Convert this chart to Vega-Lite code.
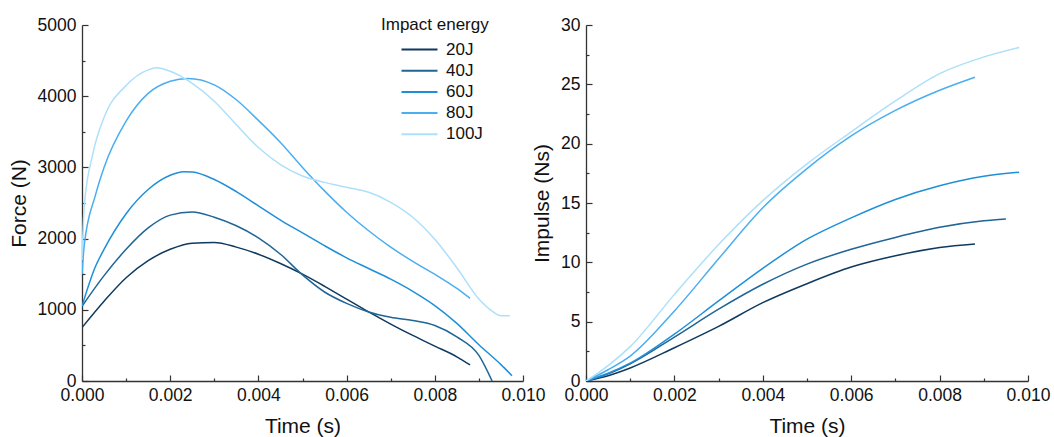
{
  "$schema": "https://vega.github.io/schema/vega-lite/v6.json",
  "padding": {"left": 8, "top": 16, "right": 5, "bottom": 5},
  "background": "white",
  "bounds": "flush",
  "spacing": 63,
  "config": {
    "view": {"stroke": null},
    "font": "Liberation Sans",
    "axis": {
      "labelFont": "Liberation Sans",
      "titleFont": "Liberation Sans",
      "labelFontSize": 17.5,
      "titleFontSize": 21,
      "titleFontWeight": "normal",
      "labelColor": "#111",
      "titleColor": "#111",
      "domainColor": "#333",
      "domainWidth": 1.3,
      "tickColor": "#333",
      "tickWidth": 1.2,
      "tickSize": 1,
      "ticks": true,
      "grid": false
    },
    "legend": {
      "labelFont": "Liberation Sans",
      "titleFont": "Liberation Sans"
    }
  },
  "datasets": {
    "force": [
      {"t": 0, "v": 750, "energy": "20J"},
      {"t": 0.0005, "v": 1120, "energy": "20J"},
      {"t": 0.001, "v": 1450, "energy": "20J"},
      {"t": 0.0015, "v": 1690, "energy": "20J"},
      {"t": 0.002, "v": 1850, "energy": "20J"},
      {"t": 0.0025, "v": 1935, "energy": "20J"},
      {"t": 0.003, "v": 1945, "energy": "20J"},
      {"t": 0.0035, "v": 1880, "energy": "20J"},
      {"t": 0.004, "v": 1780, "energy": "20J"},
      {"t": 0.0045, "v": 1650, "energy": "20J"},
      {"t": 0.005, "v": 1500, "energy": "20J"},
      {"t": 0.0055, "v": 1330, "energy": "20J"},
      {"t": 0.006, "v": 1150, "energy": "20J"},
      {"t": 0.0065, "v": 970, "energy": "20J"},
      {"t": 0.007, "v": 800, "energy": "20J"},
      {"t": 0.0075, "v": 640, "energy": "20J"},
      {"t": 0.008, "v": 490, "energy": "20J"},
      {"t": 0.0085, "v": 340, "energy": "20J"},
      {"t": 0.0088, "v": 225, "energy": "20J"},

      {"t": 0, "v": 1050, "energy": "40J"},
      {"t": 0.0005, "v": 1480, "energy": "40J"},
      {"t": 0.001, "v": 1850, "energy": "40J"},
      {"t": 0.0015, "v": 2150, "energy": "40J"},
      {"t": 0.002, "v": 2330, "energy": "40J"},
      {"t": 0.0025, "v": 2375, "energy": "40J"},
      {"t": 0.003, "v": 2300, "energy": "40J"},
      {"t": 0.0035, "v": 2180, "energy": "40J"},
      {"t": 0.004, "v": 2010, "energy": "40J"},
      {"t": 0.0045, "v": 1780, "energy": "40J"},
      {"t": 0.005, "v": 1490, "energy": "40J"},
      {"t": 0.0055, "v": 1250, "energy": "40J"},
      {"t": 0.006, "v": 1090, "energy": "40J"},
      {"t": 0.0065, "v": 970, "energy": "40J"},
      {"t": 0.007, "v": 895, "energy": "40J"},
      {"t": 0.0075, "v": 850, "energy": "40J"},
      {"t": 0.008, "v": 780, "energy": "40J"},
      {"t": 0.0085, "v": 620, "energy": "40J"},
      {"t": 0.009, "v": 360, "energy": "40J"},
      {"t": 0.0093, "v": 0, "energy": "40J"},

      {"t": 0, "v": 1050, "energy": "60J"},
      {"t": 0.0003, "v": 1600, "energy": "60J"},
      {"t": 0.0005, "v": 1850, "energy": "60J"},
      {"t": 0.001, "v": 2350, "energy": "60J"},
      {"t": 0.0015, "v": 2690, "energy": "60J"},
      {"t": 0.002, "v": 2890, "energy": "60J"},
      {"t": 0.0023, "v": 2940, "energy": "60J"},
      {"t": 0.0025, "v": 2935, "energy": "60J"},
      {"t": 0.003, "v": 2830, "energy": "60J"},
      {"t": 0.0035, "v": 2660, "energy": "60J"},
      {"t": 0.004, "v": 2460, "energy": "60J"},
      {"t": 0.0045, "v": 2260, "energy": "60J"},
      {"t": 0.005, "v": 2080, "energy": "60J"},
      {"t": 0.0055, "v": 1900, "energy": "60J"},
      {"t": 0.006, "v": 1730, "energy": "60J"},
      {"t": 0.0065, "v": 1580, "energy": "60J"},
      {"t": 0.007, "v": 1430, "energy": "60J"},
      {"t": 0.0075, "v": 1260, "energy": "60J"},
      {"t": 0.008, "v": 1060, "energy": "60J"},
      {"t": 0.0085, "v": 810, "energy": "60J"},
      {"t": 0.009, "v": 510, "energy": "60J"},
      {"t": 0.0095, "v": 230, "energy": "60J"},
      {"t": 0.00975, "v": 75, "energy": "60J"},

      {"t": 0, "v": 1500, "energy": "80J"},
      {"t": 0.00005, "v": 1900, "energy": "80J"},
      {"t": 0.0003, "v": 2600, "energy": "80J"},
      {"t": 0.0005, "v": 3000, "energy": "80J"},
      {"t": 0.001, "v": 3650, "energy": "80J"},
      {"t": 0.0015, "v": 4040, "energy": "80J"},
      {"t": 0.002, "v": 4210, "energy": "80J"},
      {"t": 0.0024, "v": 4250, "energy": "80J"},
      {"t": 0.003, "v": 4160, "energy": "80J"},
      {"t": 0.0035, "v": 3950, "energy": "80J"},
      {"t": 0.004, "v": 3660, "energy": "80J"},
      {"t": 0.0045, "v": 3350, "energy": "80J"},
      {"t": 0.005, "v": 3000, "energy": "80J"},
      {"t": 0.0055, "v": 2670, "energy": "80J"},
      {"t": 0.006, "v": 2370, "energy": "80J"},
      {"t": 0.0065, "v": 2110, "energy": "80J"},
      {"t": 0.007, "v": 1880, "energy": "80J"},
      {"t": 0.0075, "v": 1680, "energy": "80J"},
      {"t": 0.008, "v": 1500, "energy": "80J"},
      {"t": 0.0085, "v": 1300, "energy": "80J"},
      {"t": 0.0088, "v": 1160, "energy": "80J"},

      {"t": 0, "v": 1700, "energy": "100J"},
      {"t": 0.00005, "v": 2450, "energy": "100J"},
      {"t": 0.00025, "v": 3200, "energy": "100J"},
      {"t": 0.0005, "v": 3700, "energy": "100J"},
      {"t": 0.001, "v": 4150, "energy": "100J"},
      {"t": 0.0015, "v": 4370, "energy": "100J"},
      {"t": 0.0017, "v": 4400, "energy": "100J"},
      {"t": 0.002, "v": 4350, "energy": "100J"},
      {"t": 0.0025, "v": 4180, "energy": "100J"},
      {"t": 0.003, "v": 3930, "energy": "100J"},
      {"t": 0.0035, "v": 3600, "energy": "100J"},
      {"t": 0.004, "v": 3280, "energy": "100J"},
      {"t": 0.0045, "v": 3040, "energy": "100J"},
      {"t": 0.005, "v": 2880, "energy": "100J"},
      {"t": 0.0055, "v": 2790, "energy": "100J"},
      {"t": 0.006, "v": 2720, "energy": "100J"},
      {"t": 0.0065, "v": 2650, "energy": "100J"},
      {"t": 0.007, "v": 2510, "energy": "100J"},
      {"t": 0.0075, "v": 2300, "energy": "100J"},
      {"t": 0.008, "v": 1990, "energy": "100J"},
      {"t": 0.0085, "v": 1590, "energy": "100J"},
      {"t": 0.009, "v": 1150, "energy": "100J"},
      {"t": 0.0093, "v": 980, "energy": "100J"},
      {"t": 0.0095, "v": 915, "energy": "100J"},
      {"t": 0.0097, "v": 915, "energy": "100J"}
    ],
    "impulse": [
      {"t": 0, "v": 0, "energy": "20J"},
      {"t": 0.0005, "v": 0.45, "energy": "20J"},
      {"t": 0.001, "v": 1.1, "energy": "20J"},
      {"t": 0.002, "v": 2.8, "energy": "20J"},
      {"t": 0.003, "v": 4.6, "energy": "20J"},
      {"t": 0.004, "v": 6.6, "energy": "20J"},
      {"t": 0.005, "v": 8.2, "energy": "20J"},
      {"t": 0.006, "v": 9.6, "energy": "20J"},
      {"t": 0.007, "v": 10.55, "energy": "20J"},
      {"t": 0.008, "v": 11.25, "energy": "20J"},
      {"t": 0.0088, "v": 11.55, "energy": "20J"},

      {"t": 0, "v": 0, "energy": "40J"},
      {"t": 0.0005, "v": 0.6, "energy": "40J"},
      {"t": 0.001, "v": 1.45, "energy": "40J"},
      {"t": 0.002, "v": 3.7, "energy": "40J"},
      {"t": 0.003, "v": 6.05, "energy": "40J"},
      {"t": 0.004, "v": 8.15, "energy": "40J"},
      {"t": 0.005, "v": 9.85, "energy": "40J"},
      {"t": 0.006, "v": 11.1, "energy": "40J"},
      {"t": 0.007, "v": 12.1, "energy": "40J"},
      {"t": 0.008, "v": 12.95, "energy": "40J"},
      {"t": 0.009, "v": 13.5, "energy": "40J"},
      {"t": 0.0095, "v": 13.65, "energy": "40J"},

      {"t": 0, "v": 0, "energy": "60J"},
      {"t": 0.0005, "v": 0.65, "energy": "60J"},
      {"t": 0.001, "v": 1.5, "energy": "60J"},
      {"t": 0.002, "v": 3.95, "energy": "60J"},
      {"t": 0.003, "v": 6.75, "energy": "60J"},
      {"t": 0.004, "v": 9.5, "energy": "60J"},
      {"t": 0.005, "v": 11.95, "energy": "60J"},
      {"t": 0.006, "v": 13.75, "energy": "60J"},
      {"t": 0.007, "v": 15.3, "energy": "60J"},
      {"t": 0.008, "v": 16.45, "energy": "60J"},
      {"t": 0.009, "v": 17.25, "energy": "60J"},
      {"t": 0.0098, "v": 17.6, "energy": "60J"},

      {"t": 0, "v": 0, "energy": "80J"},
      {"t": 0.0005, "v": 0.95, "energy": "80J"},
      {"t": 0.001, "v": 2.1, "energy": "80J"},
      {"t": 0.002, "v": 5.9, "energy": "80J"},
      {"t": 0.003, "v": 10.3, "energy": "80J"},
      {"t": 0.004, "v": 14.6, "energy": "80J"},
      {"t": 0.005, "v": 17.9, "energy": "80J"},
      {"t": 0.006, "v": 20.65, "energy": "80J"},
      {"t": 0.007, "v": 22.8, "energy": "80J"},
      {"t": 0.008, "v": 24.5, "energy": "80J"},
      {"t": 0.0088, "v": 25.6, "energy": "80J"},

      {"t": 0, "v": 0, "energy": "100J"},
      {"t": 0.0005, "v": 1.3, "energy": "100J"},
      {"t": 0.001, "v": 2.9, "energy": "100J"},
      {"t": 0.002, "v": 7.3, "energy": "100J"},
      {"t": 0.003, "v": 11.5, "energy": "100J"},
      {"t": 0.004, "v": 15.2, "energy": "100J"},
      {"t": 0.005, "v": 18.3, "energy": "100J"},
      {"t": 0.006, "v": 21.0, "energy": "100J"},
      {"t": 0.007, "v": 23.6, "energy": "100J"},
      {"t": 0.008, "v": 25.9, "energy": "100J"},
      {"t": 0.009, "v": 27.3, "energy": "100J"},
      {"t": 0.0098, "v": 28.1, "energy": "100J"}
    ]
  },
  "resolve": {"legend": {"color": "independent"}},
  "hconcat": [
    {
      "width": 441,
      "height": 356,
      "data": {"name": "force"},
      "mark": {"type": "line", "interpolate": "monotone", "strokeWidth": 1.5, "clip": true},
      "encoding": {
        "x": {
          "field": "t", "type": "quantitative",
          "scale": {"domain": [0, 0.01], "nice": false, "zero": false},
          "axis": {
            "title": "Time (s)",
            "values": [0, 0.001, 0.002, 0.003, 0.004, 0.005, 0.006, 0.007, 0.008, 0.009, 0.01],
            "labelExpr": "round(datum.value*1000) % 2 == 0 ? format(datum.value, '.3f') : ''",
            "labelPadding": 4,
            "titlePadding": 12,
            "labelFlush": false,
            "labelOverlap": false,
            "encoding": {"ticks": {"y2": {"value": {"expr": "round(datum.value*1000) % 2 == 0 ? -6 : -3"}}}}
          }
        },
        "y": {
          "field": "v", "type": "quantitative",
          "scale": {"domain": [0, 5000], "nice": false},
          "axis": {
            "title": "Force (N)",
            "values": [0, 500, 1000, 1500, 2000, 2500, 3000, 3500, 4000, 4500, 5000],
            "labelExpr": "round(datum.value) % 1000 == 0 ? format(datum.value, 'd') : ''",
            "labelPadding": 5,
            "titlePadding": 8,
            "labelFlush": false,
            "labelOverlap": false,
            "encoding": {"ticks": {"x2": {"value": {"expr": "round(datum.value) % 1000 == 0 ? 6 : 3"}}}}
          }
        },
        "color": {
          "field": "energy", "type": "nominal",
          "scale": {
            "domain": ["20J", "40J", "60J", "80J", "100J"],
            "range": ["#0f3a5f", "#1f6596", "#1f8fd8", "#4aaef0", "#ade0fa"]
          },
          "legend": {
            "orient": "none",
            "legendX": 299,
            "legendY": -8,
            "title": "Impact energy",
            "titleFontSize": 17,
            "titleFontWeight": "normal",
            "titleColor": "#111",
            "titlePadding": 7,
            "labelFontSize": 17,
            "labelColor": "#111",
            "labelOffset": 30,
            "symbolType": "M-1,0H5",
            "symbolSize": 144,
            "symbolStrokeWidth": 2,
            "rowPadding": 3.2,
            "encoding": {"title": {"dx": {"value": -18}}}
          }
        },
        "order": {"field": "t", "type": "quantitative"}
      }
    },
    {
      "width": 442,
      "height": 356,
      "data": {"name": "impulse"},
      "mark": {"type": "line", "interpolate": "monotone", "strokeWidth": 1.5, "clip": true},
      "encoding": {
        "x": {
          "field": "t", "type": "quantitative",
          "scale": {"domain": [0, 0.01], "nice": false, "zero": false},
          "axis": {
            "title": "Time (s)",
            "values": [0, 0.001, 0.002, 0.003, 0.004, 0.005, 0.006, 0.007, 0.008, 0.009, 0.01],
            "labelExpr": "round(datum.value*1000) % 2 == 0 ? format(datum.value, '.3f') : ''",
            "labelPadding": 4,
            "titlePadding": 12,
            "labelFlush": false,
            "labelOverlap": false,
            "encoding": {"ticks": {"y2": {"value": {"expr": "round(datum.value*1000) % 2 == 0 ? -6 : -3"}}}}
          }
        },
        "y": {
          "field": "v", "type": "quantitative",
          "scale": {"domain": [0, 30], "nice": false},
          "axis": {
            "title": "Impulse (Ns)",
            "values": [0, 2.5, 5, 7.5, 10, 12.5, 15, 17.5, 20, 22.5, 25, 27.5, 30],
            "labelExpr": "round(datum.value*2) % 10 == 0 ? format(datum.value, 'd') : ''",
            "labelPadding": 5,
            "titlePadding": 8,
            "labelFlush": false,
            "labelOverlap": false,
            "encoding": {"ticks": {"x2": {"value": {"expr": "round(datum.value*2) % 10 == 0 ? 6 : 3"}}}}
          }
        },
        "color": {
          "field": "energy", "type": "nominal",
          "scale": {
            "domain": ["20J", "40J", "60J", "80J", "100J"],
            "range": ["#0f3a5f", "#1f6596", "#1f8fd8", "#4aaef0", "#ade0fa"]
          },
          "legend": null
        },
        "order": {"field": "t", "type": "quantitative"}
      }
    }
  ]
}
